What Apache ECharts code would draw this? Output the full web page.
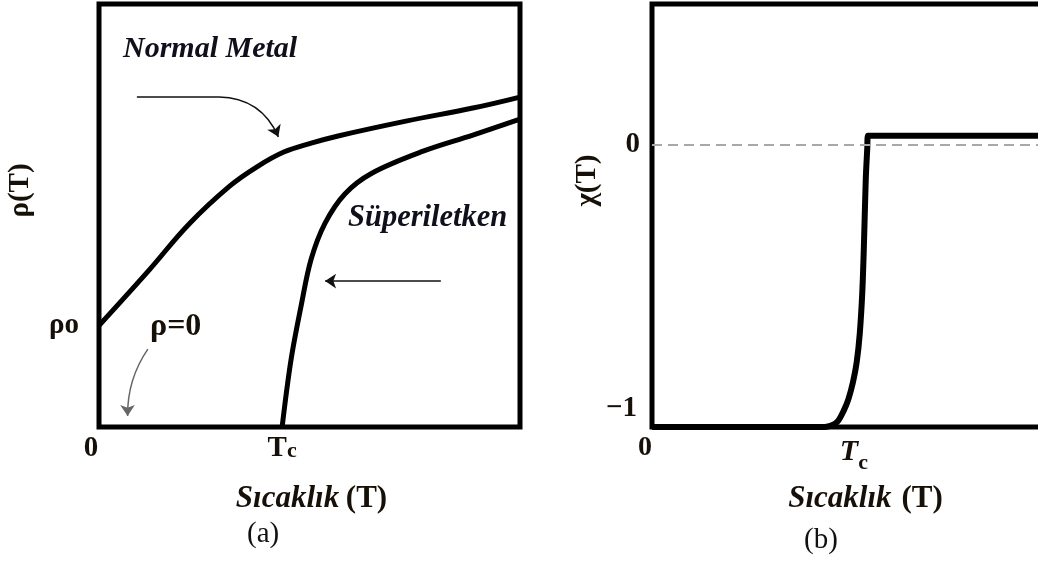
<!DOCTYPE html>
<html>
<head>
<meta charset="utf-8">
<script src="https://cdn.jsdelivr.net/npm/echarts@6/dist/echarts.min.js"></script>
<style>
  html, body { margin: 0; padding: 0; background: #fff; }
  #chart { width: 1038px; height: 567px; }
</style>
</head>
<body>
<div id="chart"></div>
<script>
// ---------- Panel (a): resistivity ρ(T), arbitrary units (T: 0..100) ----------
const TC_A = 43.5;
const RHO_0 = 24;
const normalT   = [0, 11.9, 21.4, 31.1, 37.5, 43.9, 50.4, 56.8, 72.9, 88.8, 100];
const normalRho = [24, 37.1, 48.0, 57.0, 61.5, 65.0, 67.1, 68.8, 72.3, 75.4, 78.0];
const superT    = [43.5, 45.6, 48.0, 50.4, 53.7, 58.4, 64.8, 77.0, 88.8, 100];
const superRho  = [0, 15.8, 28.6, 39.7, 48.2, 55.1, 60.0, 65.2, 69.0, 72.8];
const xTicksA  = [0, TC_A];
const xLabelsA = ['0', 'Tc'];
const yTicksA  = [RHO_0];
const yLabelsA = ['ρo'];

// Annotation arrows in panel (a) data units
const arrowNormalLead = [[9.0, 78.0], [28.5, 78.0]];
const arrowNormalHead = [[28.5, 78.0], [42.6, 68.6]];
const arrowSuper      = [[81.2, 34.5], [53.7, 34.5]];
const arrowZero       = [[11.6, 18.4], [6.8, 2.6]];

// ---------- Panel (b): susceptibility χ(T), T in units of Tc ----------
const TC_B = 1;
const chiT   = [0, 0.80, 0.83, 0.86, 0.889, 0.91, 0.931, 0.948, 0.962, 0.974, 0.982, 0.99, 0.997, 1.0, 1.01, 1.82];
const chiVal = [-1, -1, -0.995, -0.98, -0.94, -0.90, -0.84, -0.77, -0.67, -0.52, -0.34, -0.12, -0.01, 0.033, 0.033, 0.033];
const xTicksB  = [0, TC_B];
const xLabelsB = ['0', 'Tc'];
const yTicksB  = [0, -1];
const yLabelsB = ['0', '−1'];

const pairs = (xs, ys) => xs.map((x, i) => [x, ys[i]]);
const labelFor = (ticks, labels, v) => {
  const i = ticks.findIndex(t => Math.abs(t - v) < 1e-6);
  return i < 0 ? '' : labels[i];
};

const SERIF = '"Liberation Serif", "Times New Roman", serif';
const INK = '#161008';

const tickFont = { fontFamily: SERIF, fontWeight: 'bold', fontSize: 29, color: INK };
const nameRich = {
  i: { fontFamily: SERIF, fontWeight: 'bold', fontStyle: 'italic', fontSize: 31, color: INK },
  b: { fontFamily: SERIF, fontWeight: 'bold', fontSize: 31, color: INK }
};

const chart = echarts.init(document.getElementById('chart'), null, { renderer: 'canvas' });

const option = {
  animation: false,
  backgroundColor: '#fff',
  title: [
    { text: '(a)', left: 247, top: 520, padding: 0,
      textStyle: { fontFamily: SERIF, fontWeight: 'normal', fontSize: 29, color: '#111' } },
    { text: '(b)', left: 804, top: 526, padding: 0,
      textStyle: { fontFamily: SERIF, fontWeight: 'normal', fontSize: 29, color: '#111' } }
  ],
  grid: [
    { left: 99, top: 4, width: 421, height: 423, show: true,
      borderColor: '#000', borderWidth: 5, outerBoundsMode: 'none' },
    { left: 652, top: 4, width: 393, height: 423, show: true,
      borderColor: '#000', borderWidth: 5, outerBoundsMode: 'none' }
  ],
  xAxis: [
    {
      gridIndex: 0, type: 'value', min: 0, max: 100,
      splitLine: { show: false }, axisLine: { show: false }, axisTick: { show: false },
      axisLabel: {
        customValues: xTicksA, margin: 7, ...tickFont,
        formatter: v => {
          const s = labelFor(xTicksA, xLabelsA, v);
          return s === 'Tc' ? '{t|T}{c|c}' : '{z|' + s + '}';
        },
        rich: {
          z: { ...tickFont, padding: [0, 16, 0, 0] },
          t: { ...tickFont },
          c: { ...tickFont, fontSize: 22, padding: [6, 0, 0, 0] }
        }
      },
      name: '{i|Sıcaklık}  {b|(T)}', nameLocation: 'middle', nameGap: 56,
      nameMoveOverlap: false,
      nameTextStyle: { rich: nameRich, padding: [0, 0, 0, 4] }
    },
    {
      gridIndex: 1, type: 'value', min: 0, max: 1.82,
      splitLine: { show: false }, axisLine: { show: false },
      axisTick: { show: true, inside: true, length: 10, customValues: [TC_B],
                  lineStyle: { color: '#333', width: 1 } },
      axisLabel: {
        customValues: xTicksB, margin: 7, align: 'right', ...tickFont,
        formatter: v => {
          const s = labelFor(xTicksB, xLabelsB, v);
          return s === 'Tc' ? '{t|T}{c|c}' : '{z|' + s + '}';
        },
        rich: {
          z: { ...tickFont, fontSize: 28 },
          t: { fontFamily: SERIF, fontStyle: 'italic', fontSize: 30, color: INK, padding: [0, 0, 4, 0] },
          c: { fontFamily: SERIF, fontSize: 22, color: INK, padding: [18, 0, 0, 0] }
        }
      },
      name: '{i|Sıcaklık}   {b|(T)}', nameLocation: 'middle', nameGap: 56,
      nameMoveOverlap: false,
      nameTextStyle: { rich: nameRich, padding: [0, 0, 0, 34] }
    }
  ],
  yAxis: [
    {
      gridIndex: 0, type: 'value', min: 0, max: 100,
      splitLine: { show: false }, axisLine: { show: false }, axisTick: { show: false },
      axisLabel: {
        customValues: yTicksA, margin: 20, ...tickFont,
        formatter: v => labelFor(yTicksA, yLabelsA, v)
      },
      name: 'ρ(T)', nameLocation: 'middle', nameGap: 64, nameMoveOverlap: false,
      nameTextStyle: { ...tickFont, padding: [0, 0, 0, 50] }
    },
    {
      gridIndex: 1, type: 'value', min: -1, max: 0.5,
      splitLine: { show: false }, axisLine: { show: false }, axisTick: { show: false },
      axisLabel: {
        customValues: yTicksB, margin: 12, ...tickFont,
        formatter: v => {
          const s = labelFor(yTicksB, yLabelsB, v);
          return s === '0' ? '{z|0}' : '{m|' + s + '}';
        },
        rich: {
          z: { ...tickFont },
          m: { ...tickFont, padding: [0, 3, 36, 0] }
        }
      },
      name: 'χ(T)', nameLocation: 'middle', nameGap: 50, nameMoveOverlap: false,
      nameTextStyle: { ...tickFont, padding: [0, 0, 0, 70] }
    }
  ],
  graphic: [
    { type: 'text', left: 123, top: 34, silent: true,
      style: { text: 'Normal Metal', fill: '#10101c',
               font: 'italic bold 30px ' + SERIF } },
    { type: 'text', left: 348, top: 203, silent: true,
      style: { text: 'Süperiletken', fill: '#10101c',
               font: 'italic bold 30.5px ' + SERIF } },
    { type: 'text', left: 150, top: 311, silent: true,
      style: { text: 'ρ=0', fill: INK,
               font: 'bold 32px ' + SERIF } }
  ],
  series: [
    {
      name: 'Normal metal', type: 'line', xAxisIndex: 0, yAxisIndex: 0,
      data: pairs(normalT, normalRho), smooth: 0.4, showSymbol: false, z: 3,
      lineStyle: { color: '#000', width: 5 }
    },
    {
      name: 'Süperiletken', type: 'line', xAxisIndex: 0, yAxisIndex: 0,
      data: pairs(superT, superRho), smooth: 0.35, showSymbol: false, z: 3,
      lineStyle: { color: '#000', width: 5 }
    },
    {
      type: 'lines', coordinateSystem: 'cartesian2d', xAxisIndex: 0, yAxisIndex: 0,
      symbol: ['none', 'none'], silent: true, z: 4,
      lineStyle: { color: '#111', width: 1.6, opacity: 1 },
      data: [{ coords: arrowNormalLead }]
    },
    {
      type: 'lines', coordinateSystem: 'cartesian2d', xAxisIndex: 0, yAxisIndex: 0,
      symbol: ['none', 'arrow'], symbolSize: 11, silent: true, z: 4,
      lineStyle: { color: '#111', width: 1.6, opacity: 1 },
      data: [
        { coords: arrowNormalHead, lineStyle: { curveness: 0.32 } },
        { coords: arrowSuper, lineStyle: { curveness: 0 } }
      ]
    },
    {
      type: 'lines', coordinateSystem: 'cartesian2d', xAxisIndex: 0, yAxisIndex: 0,
      symbol: ['none', 'arrow'], symbolSize: 11, silent: true, z: 4,
      lineStyle: { color: '#666', width: 1.5, opacity: 1, curveness: -0.158 },
      data: [{ coords: arrowZero }]
    },
    {
      name: 'zero', type: 'line', xAxisIndex: 1, yAxisIndex: 1, data: [], z: 1,
      markLine: {
        silent: true, symbol: ['none', 'none'], label: { show: false },
        lineStyle: { color: '#a8a8a8', width: 2, type: [10, 6] },
        data: [{ yAxis: 0 }]
      }
    },
    {
      name: 'χ', type: 'line', xAxisIndex: 1, yAxisIndex: 1,
      data: pairs(chiT, chiVal), smooth: 0.3, showSymbol: false, z: 3,
      lineStyle: { color: '#000', width: 6, join: 'round' }
    }
  ]
};

chart.setOption(option);
</script>
</body>
</html>
